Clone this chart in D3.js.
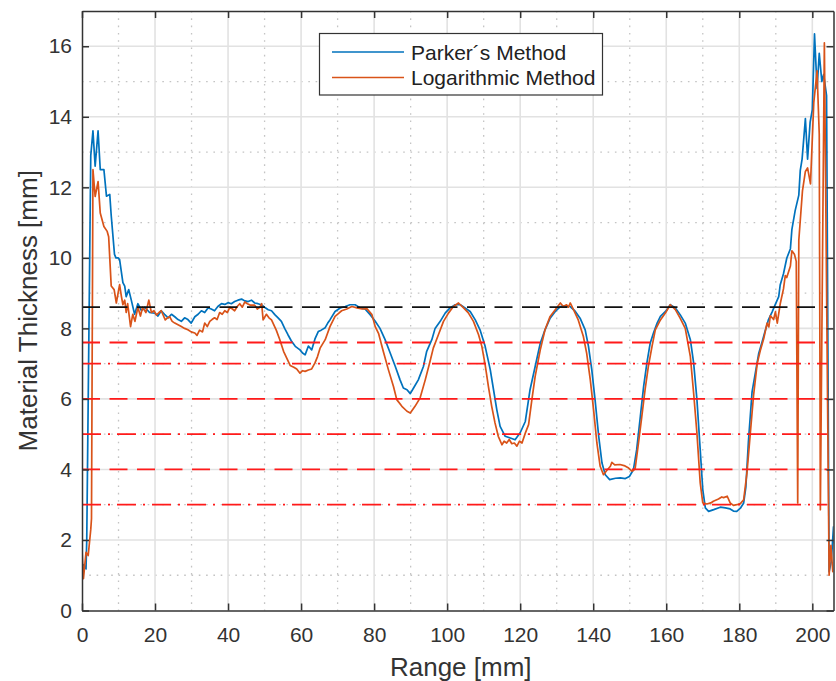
<!DOCTYPE html>
<html>
<head>
<meta charset="utf-8">
<script src="https://cdn.jsdelivr.net/npm/d3@7"></script>
<style>
  html, body { margin: 0; padding: 0; background: #fff; }
  svg { display: block; font-family: "Liberation Sans", Arial, Helvetica, sans-serif; }
</style>
</head>
<body>
<svg id="chart" width="836" height="681"></svg>
<script>
// Thickness profile along the scan range, two reconstruction methods: [range mm, thickness mm]
const parkerData = [
  [0,1.25],[0.5,1.3],[1.1,1.18],[1.3,2.0],[2.4,12.9],[3.0,13.6],[3.6,12.6],[4.4,13.6],[5.0,12.5],[6.0,12.5],
  [6.7,11.75],[7.6,11.8],[8.0,11.2],[8.9,10.1],[9.3,10.0],[9.9,10.0],[10.3,9.95],[11.2,9.3],[11.7,9.2],[12.1,8.9],
  [12.8,9.1],[13.5,8.8],[14.4,8.4],[15.3,8.7],[16.3,8.5],[17.2,8.6],[18.5,8.45],[19.9,8.43],[20.8,8.35],[21.7,8.5],
  [22.6,8.4],[23.6,8.3],[24.5,8.4],[25.4,8.33],[26.3,8.25],[27.2,8.2],[28.1,8.3],[29.0,8.25],[29.9,8.15],[30.9,8.33],
  [31.8,8.4],[32.7,8.5],[33.6,8.45],[34.5,8.58],[35.4,8.55],[36.3,8.5],[37.2,8.62],[38.2,8.7],[39.1,8.68],[40.0,8.73],
  [40.9,8.7],[41.8,8.76],[42.7,8.8],[43.7,8.83],[44.6,8.78],[45.5,8.76],[46.4,8.8],[47.3,8.72],[48.2,8.7],[49.1,8.67],
  [50.0,8.6],[51.0,8.53],[51.9,8.5],[52.8,8.39],[53.7,8.3],[54.6,8.2],[55.5,8.0],[56.4,7.82],[57.3,7.65],[58.4,7.49],
  [59.7,7.39],[60.4,7.3],[61.1,7.25],[62.0,7.5],[62.9,7.39],[63.8,7.7],[64.7,7.91],[65.5,7.95],[66.6,8.02],[67.3,8.15],
  [67.9,8.24],[69.3,8.48],[70.7,8.58],[72.1,8.62],[73.4,8.67],[74.8,8.67],[76.2,8.58],[77.5,8.55],[78.9,8.39],[80.3,8.2],
  [81.6,8.0],[83.0,7.68],[84.4,7.3],[85.8,6.92],[87.1,6.54],[88.0,6.31],[89.0,6.26],[89.9,6.15],[90.8,6.31],[92.1,6.54],
  [93.5,6.92],[94.4,7.35],[95.8,7.68],[96.7,8.0],[98.1,8.2],[99.5,8.44],[100.8,8.58],[102.2,8.67],[103.6,8.67],[104.9,8.58],
  [106.3,8.48],[107.7,8.24],[109.0,7.96],[110.4,7.49],[111.8,6.83],[112.7,6.26],[113.6,5.69],[114.5,5.22],[115.9,4.94],[117.3,4.89],
  [118.6,4.84],[120.0,5.04],[121.4,5.36],[122.7,6.26],[124.1,6.92],[125.5,7.58],[126.8,7.96],[128.2,8.29],[129.6,8.48],[131.0,8.62],
  [132.3,8.64],[133.7,8.62],[135.1,8.48],[136.4,8.29],[137.8,7.96],[138.7,7.49],[139.6,6.83],[140.5,5.98],[141.5,4.94],[142.4,4.18],
  [143.3,3.85],[144.5,3.71],[146.1,3.75],[147.4,3.76],[148.8,3.74],[149.9,3.8],[151.0,3.99],[151.9,4.56],[152.9,5.5],[153.8,6.35],
  [154.7,7.02],[155.6,7.58],[156.5,7.87],[157.5,8.15],[158.4,8.34],[159.8,8.48],[161.1,8.67],[162.5,8.58],[163.8,8.39],[165.2,8.15],
  [166.6,7.68],[167.5,7.02],[168.4,5.98],[169.3,4.56],[170.0,3.43],[170.7,2.91],[171.6,2.81],[173.0,2.86],[174.8,2.93],[176.2,2.91],
  [177.5,2.88],[178.4,2.82],[179.3,2.81],[180.3,2.9],[181.2,3.05],[181.8,3.5],[182.5,4.79],[183.5,6.2],[184.4,6.74],[185.3,7.28],
  [186.2,7.6],[187.1,7.93],[188.0,8.25],[189.0,8.47],[189.9,8.69],[190.8,8.9],[191.2,9.23],[192.1,9.55],[193.0,9.99],[194.0,10.26],
  [194.4,10.8],[195.3,11.34],[196.3,11.78],[196.7,12.48],[197.2,12.8],[198.1,13.95],[198.7,12.8],[199.4,13.85],[200.0,14.2],[200.6,16.35],
  [201.3,14.8],[201.9,15.8],[202.6,15.0],[203.1,15.2],[203.9,14.6],[204.6,1.1],[205.2,1.4],[205.8,2.37],[206.0,1.9]
];

const logData = [
  [0,1.73],[0.4,0.9],[1.1,1.65],[1.7,1.56],[2.4,2.3],[2.6,2.6],[3.0,12.5],[3.6,11.74],[4.4,12.16],[5.0,11.27],
  [6.0,10.89],[6.9,10.75],[7.3,10.6],[8.0,9.2],[8.8,9.1],[9.4,8.72],[10.3,9.24],[10.8,8.9],[11.2,8.67],[11.7,8.8],
  [12.1,8.45],[12.5,8.7],[13.3,8.05],[13.9,8.4],[14.5,8.2],[15.3,8.6],[16.0,8.35],[16.6,8.6],[17.5,8.45],[18.3,8.8],
  [19.0,8.45],[19.7,8.5],[20.4,8.38],[21.1,8.45],[21.7,8.5],[22.8,8.24],[23.4,8.3],[24.0,8.33],[24.7,8.2],[25.4,8.15],
  [26.3,8.1],[27.2,8.05],[28.1,8.0],[29.0,7.96],[29.9,7.9],[30.9,7.87],[31.5,7.8],[32.2,7.95],[33.0,7.9],[33.6,8.15],
  [34.3,8.05],[35.0,8.2],[35.6,8.25],[36.3,8.3],[37.0,8.25],[37.7,8.45],[38.4,8.4],[39.1,8.5],[39.8,8.45],[40.5,8.6],
  [41.2,8.55],[41.8,8.5],[42.5,8.62],[43.2,8.7],[43.9,8.6],[44.6,8.75],[45.3,8.7],[46.0,8.66],[47.3,8.66],[48.0,8.55],
  [48.7,8.6],[49.2,8.7],[49.6,8.24],[50.5,8.4],[51.2,8.3],[51.9,8.24],[53.2,7.95],[54.1,7.7],[55.2,7.35],[56.1,7.15],
  [57.0,6.95],[58.0,6.9],[58.8,6.85],[59.7,6.73],[60.4,6.8],[61.1,6.78],[62.0,6.82],[62.9,6.85],[63.8,7.02],[64.5,7.2],
  [65.2,7.44],[66.6,7.68],[67.9,8.05],[69.3,8.34],[70.2,8.42],[71.1,8.5],[72.5,8.55],[73.9,8.62],[75.3,8.58],[76.7,8.55],
  [78.0,8.56],[79.4,8.39],[80.3,8.05],[81.2,7.86],[82.5,7.35],[83.9,6.83],[85.3,6.35],[86.2,5.98],[87.6,5.79],[89.0,5.65],
  [89.9,5.6],[91.2,5.79],[92.6,6.03],[94.0,6.54],[95.3,7.06],[96.2,7.44],[97.6,7.82],[99.0,8.2],[100.4,8.44],[101.7,8.62],
  [103.1,8.72],[104.5,8.58],[105.8,8.44],[107.2,8.2],[108.6,7.82],[109.5,7.49],[110.4,6.97],[111.3,6.35],[112.2,5.79],[113.1,5.32],
  [114.0,4.94],[115.0,4.7],[115.6,4.8],[116.3,4.75],[117.0,4.85],[117.7,4.73],[118.4,4.75],[119.1,4.66],[119.8,4.8],[120.5,4.75],
  [121.4,5.03],[122.3,5.27],[123.2,5.98],[124.1,6.64],[125.5,7.39],[126.8,7.96],[128.2,8.34],[129.6,8.53],[131.0,8.72],[131.8,8.62],
  [132.7,8.67],[133.2,8.6],[133.7,8.72],[134.6,8.53],[135.9,8.24],[137.3,7.77],[138.2,7.3],[139.2,6.54],[140.1,5.69],[141.0,4.75],
  [141.9,4.09],[142.8,3.85],[143.7,3.97],[144.7,4.09],[145.1,4.2],[145.9,4.13],[147.3,4.14],[148.7,4.1],[149.7,4.04],[150.6,3.95],
  [151.2,3.99],[151.5,4.04],[152.4,4.75],[153.3,5.5],[154.2,6.26],[155.1,6.92],[156.1,7.49],[157.0,7.96],[158.4,8.24],[159.8,8.44],
  [161.1,8.67],[162.5,8.53],[163.8,8.29],[165.2,8.0],[166.6,7.2],[167.5,6.16],[168.4,5.03],[169.3,3.62],[170.0,3.05],[171.1,3.02],
  [172.2,3.05],[172.9,3.1],[174.3,3.16],[175.2,3.22],[175.7,3.2],[176.7,3.24],[177.5,3.05],[178.4,2.98],[179.3,3.0],[180.3,3.03],
  [181.2,3.14],[182.1,3.9],[183.0,5.0],[183.9,6.09],[184.9,7.0],[185.8,7.39],[186.7,7.71],[187.6,8.15],[188.1,8.04],[188.5,8.36],
  [189.4,8.25],[189.9,8.47],[190.4,8.15],[191.2,8.69],[192.1,9.12],[192.6,9.5],[193.0,9.44],[194.0,9.77],[194.4,10.2],[195.1,10.1],
  [195.6,9.9],[196.0,3.05],[196.3,10.5],[196.8,11.2],[197.3,11.9],[198.1,12.45],[198.7,12.55],[199.5,12.1],[200.4,14.4],[201.3,15.3],
  [201.9,13.5],[202.2,2.86],[203.3,16.1],[204.6,1.0],[205.1,1.85],[205.6,1.1],[205.8,1.1]
];

// Nominal wall thickness and the machined step thicknesses
const nominalThickness = 8.6;
const stepThickness = [7.6, 7, 6, 5, 4, 3];
const stepStyle = ["dash", "dashdot", "dash", "dashdot", "dash", "dashdot"];
const refRange = [0, 204];

const seriesNames = ["Parker\u00b4s Method", "Logarithmic Method"];
const seriesColors = ["#0072BD", "#D95319"];

const xTicks = [0, 20, 40, 60, 80, 100, 120, 140, 160, 180, 200];
const yTicks = [0, 2, 4, 6, 8, 10, 12, 14, 16];
const xMinor = [10, 30, 50, 70, 90, 110, 130, 150, 170, 190];
const yMinor = [1, 3, 5, 7, 9, 11, 13, 15];

const xDomain = [0, 205.8];
const yDomain = [0, 17];

const L = 82, R = 833.5, T = 11, B = 610.5;
const svg = d3.select("#chart");
const x = d3.scaleLinear().domain(xDomain).range([L, R]);
const y = d3.scaleLinear().domain(yDomain).range([B, T]);

const axisColor = "#333333";

svg.append("defs").append("clipPath").attr("id", "plotClip")
  .append("rect").attr("x", L).attr("y", T).attr("width", R - L).attr("height", B - T);

// grid: minor (dotted) then major (solid)
const grid = svg.append("g");
grid.selectAll(".xminor").data(xMinor).join("line")
  .attr("x1", d => x(d)).attr("x2", d => x(d)).attr("y1", T).attr("y2", B)
  .attr("stroke", "#c4c4c4").attr("stroke-width", 1.3).attr("stroke-dasharray", "1.6,5.7");
grid.selectAll(".yminor").data(yMinor).join("line")
  .attr("y1", d => y(d)).attr("y2", d => y(d)).attr("x1", L).attr("x2", R)
  .attr("stroke", "#c4c4c4").attr("stroke-width", 1.3).attr("stroke-dasharray", "1.6,5.7");
grid.selectAll(".xmajor").data(xTicks.filter(d => d > 0)).join("line")
  .attr("x1", d => x(d)).attr("x2", d => x(d)).attr("y1", T).attr("y2", B)
  .attr("stroke", "#e2e2e2").attr("stroke-width", 1.6);
grid.selectAll(".ymajor").data(yTicks.filter(d => d > 0)).join("line")
  .attr("y1", d => y(d)).attr("y2", d => y(d)).attr("x1", L).attr("x2", R)
  .attr("stroke", "#e2e2e2").attr("stroke-width", 1.6);

// measured profiles
const line = d3.line().x(d => x(d[0])).y(d => y(d[1]));
const plot = svg.append("g").attr("clip-path", "url(#plotClip)");
[parkerData, logData].forEach((data, i) => {
  plot.append("path").datum(data)
    .attr("fill", "none").attr("stroke", seriesColors[i])
    .attr("stroke-width", 1.7).attr("stroke-linejoin", "round")
    .attr("d", line);
});

// reference thickness lines
plot.append("line")
  .attr("x1", x(refRange[0])).attr("x2", x(refRange[1]))
  .attr("y1", y(nominalThickness)).attr("y2", y(nominalThickness))
  .attr("stroke", "#111").attr("stroke-width", 1.8).attr("stroke-dasharray", "18,9.5");
plot.selectAll(".step").data(stepThickness).join("line")
  .attr("x1", x(refRange[0])).attr("x2", x(refRange[1]))
  .attr("y1", d => y(d)).attr("y2", d => y(d))
  .attr("stroke", "#ff1a1a").attr("stroke-width", 1.8)
  .attr("stroke-dasharray", (d, i) => stepStyle[i] === "dash" ? "18,9.5" : "19,7,2,7");

// axes (box with inward ticks)
const fontTick = 21;
const gx = svg.append("g").attr("transform", `translate(0,${B})`)
  .call(d3.axisBottom(x).tickValues(xTicks).tickSizeInner(-7).tickSizeOuter(0).tickPadding(17));
const gy = svg.append("g").attr("transform", `translate(${L},0)`)
  .call(d3.axisLeft(y).tickValues(yTicks).tickSizeInner(-7).tickSizeOuter(0).tickPadding(10));
const gt = svg.append("g").attr("transform", `translate(0,${T})`)
  .call(d3.axisTop(x).tickValues(xTicks).tickSizeInner(-7).tickSizeOuter(0).tickFormat(""));
const gr = svg.append("g").attr("transform", `translate(${R},0)`)
  .call(d3.axisRight(y).tickValues(yTicks).tickSizeInner(-7).tickSizeOuter(0).tickFormat(""));
[gx, gy, gt, gr].forEach(g => {
  g.select(".domain").attr("stroke", axisColor).attr("stroke-width", 1.5);
  g.selectAll(".tick line").attr("stroke", axisColor).attr("stroke-width", 1.5);
  g.selectAll(".tick text").attr("fill", axisColor).attr("font-size", fontTick)
    .attr("font-family", "'Liberation Sans', Arial, sans-serif");
});

// axis titles
svg.append("text").attr("x", (L + R) / 2 + 3).attr("y", 676)
  .attr("text-anchor", "middle").attr("font-size", 26).attr("fill", axisColor)
  .text("Range [mm]");
svg.append("text").attr("transform", `translate(37,${(T + B) / 2}) rotate(-90)`)
  .attr("text-anchor", "middle").attr("font-size", 26).attr("fill", axisColor)
  .text("Material Thickness [mm]");

// legend
const lg = svg.append("g");
lg.append("rect").attr("x", 319.5).attr("y", 33.5).attr("width", 283).attr("height", 61.5)
  .attr("fill", "#fff").attr("stroke", "#333").attr("stroke-width", 1.2);
seriesNames.forEach((name, i) => {
  const yy = 52 + i * 25.5;
  lg.append("line").attr("x1", 332).attr("x2", 404).attr("y1", yy).attr("y2", yy)
    .attr("stroke", seriesColors[i]).attr("stroke-width", 1.7);
  lg.append("text").attr("x", 411).attr("y", yy).attr("dy", "0.36em")
    .attr("font-size", 21).attr("fill", "#222").text(name);
});
</script>
</body>
</html>
